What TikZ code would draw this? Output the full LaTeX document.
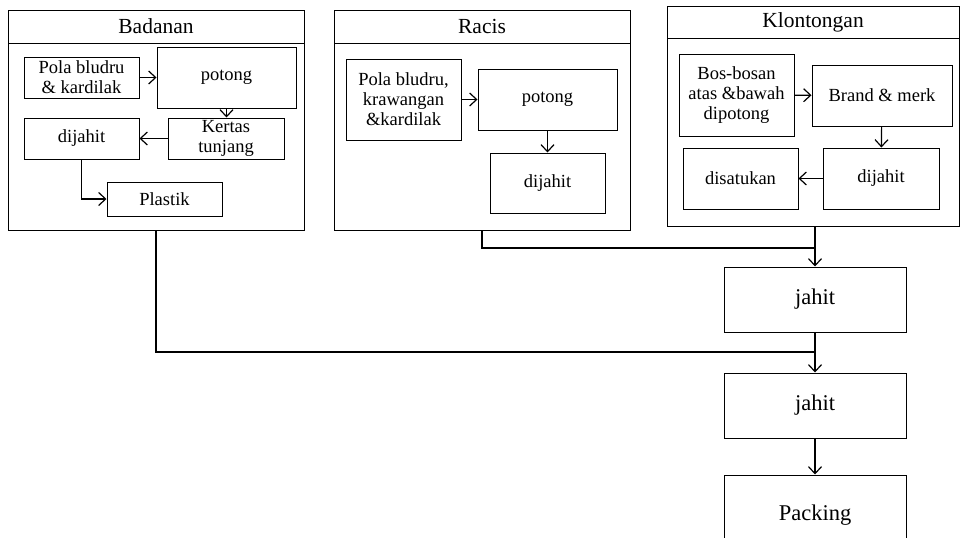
\documentclass[tikz,border=0pt]{standalone}
\usepackage{fontspec}
\setmainfont{Liberation Serif}
\usetikzlibrary{arrows.meta,positioning}

\begin{document}
\begin{tikzpicture}[x=1pt, y=-1pt,
  wadah/.style={draw, line width=1pt, minimum width=296pt, minimum height=220pt, inner sep=0pt},
  judul/.style={draw, line width=1pt, minimum width=296pt, minimum height=33pt, inner sep=0pt, font=\fontsize{21.5}{23}\selectfont},
  kotak/.style={draw, line width=1pt, align=center, minimum width=115pt, minimum height=41pt, inner sep=2pt, font=\fontsize{18.5}{20}\selectfont},
  akhir/.style={kotak, minimum width=182pt, minimum height=65pt, font=\fontsize{22.5}{24}\selectfont},
  panah/.style={-{Straight Barb[length=7pt, width=13pt]}, line width=1.2pt},
  garis/.style={line width=1.2pt}
]
\clip (0,0) rectangle (961,538);

% tiga bagian
\node[wadah] (badanan) at (156,120) {};
\node[judul] (tBadanan) at (156,26.5) {Badanan};
\node[wadah] (racis) at (482,120) {};
\node[judul] (tRacis) at (482,26.5) {Racis};
\node[wadah, minimum width=292pt] (klontongan) at (813,116) {};
\node[judul, minimum width=292pt, minimum height=32pt] (tKlontongan) at (813,22) {Klontongan};

% Badanan
\node[kotak] (bPola) at (81.5,77.5) {Pola bludru\\\& kardilak};
\node[kotak, minimum width=139pt, minimum height=61pt] (bPotong) at (226.5,77.5) {potong};
\node[kotak, minimum width=116pt, inner sep=0pt] (bKertas) at (226,138.5) {Kertas\\tunjang};
\node[kotak] (bDijahit) at (81.5,138.5) {dijahit};
\node[kotak, minimum height=34pt] (bPlastik) at (164.5,199) {Plastik};
\draw[panah] (bPola) -- (bPotong);
\draw[panah] (bPotong.south) -- (bPotong.south |- bKertas.north);
\draw[panah] (bKertas) -- (bDijahit);
\draw[panah] (bDijahit) |- (bPlastik);

% Racis
\node[kotak, minimum height=81pt] (rPola) at (403.5,99.5) {Pola bludru,\\krawangan\\\&kardilak};
\node[kotak, minimum width=139pt, minimum height=61pt] (rPotong) at (547.5,99.5) {potong};
\node[kotak, minimum height=60pt] (rDijahit) at (547.5,183) {dijahit};
\draw[panah] (rPola) -- (rPotong);
\draw[panah] (rPotong) -- (rDijahit);

% Klontongan
\node[kotak, minimum height=82pt] (kBos) at (736.5,95) {Bos-bosan\\atas \&bawah\\dipotong};
\node[kotak, minimum width=140pt, minimum height=61pt] (kBrand) at (882,95.5) {Brand \& merk};
\node[kotak, minimum width=116pt, minimum height=61pt] (kDijahit) at (881,178.5) {dijahit};
\node[kotak, minimum height=61pt] (kSatu) at (740.5,178.5) {disatukan};
\draw[panah] (kBos) -- (kBrand);
\draw[panah] (kBrand) -- (kDijahit);
\draw[panah] (kDijahit) -- (kSatu);

% alur akhir
\node[akhir] (jahit1) at (815,299.5) {jahit};
\node[akhir] (jahit2) at (815,405.5) {jahit};
\node[akhir, minimum height=80pt] (packing) at (815,515) {Packing};
\coordinate (gabungA) at (jahit1.north |- 0,248);
\coordinate (gabungB) at (jahit2.north |- 0,352);
\draw[garis] (racis.south) |- (gabungA);
\draw[panah] (klontongan.south -| jahit1.north) -- (jahit1.north);
\draw[garis] (badanan.south) |- (gabungB);
\draw[panah] (jahit1) -- (jahit2);
\draw[panah] (jahit2) -- (packing);
\end{tikzpicture}
\end{document}
